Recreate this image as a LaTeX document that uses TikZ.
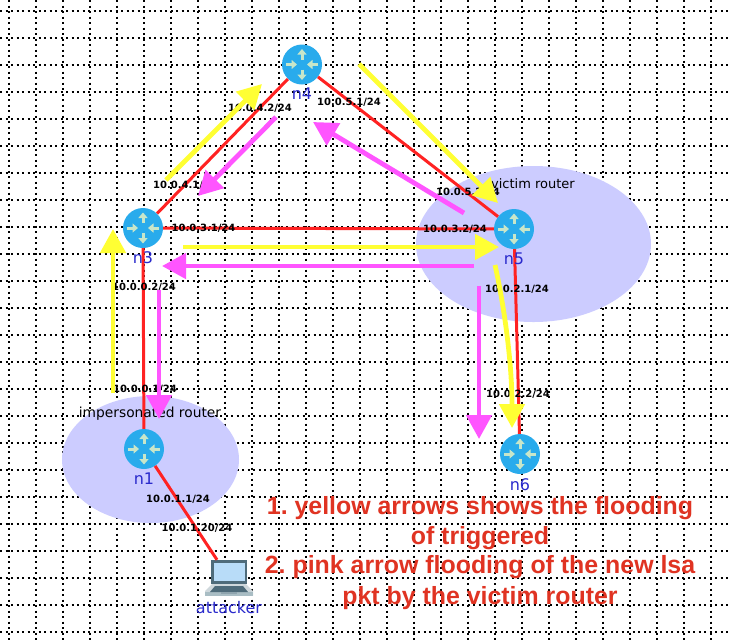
\documentclass[tikz,border=0pt]{standalone}
\usepackage{fontspec}
\setmainfont{DejaVu Sans}
\newfontfamily\notefont{Liberation Sans}
\usetikzlibrary{arrows.meta,shapes.geometric}
\frenchspacing
\definecolor{gridc}{HTML}{000000}
\definecolor{zonec}{HTML}{CCCCFF}
\definecolor{routerc}{HTML}{29ABEC}
\definecolor{iconc}{HTML}{C8E6C9}
\definecolor{linkc}{HTML}{FF2222}
\definecolor{yel}{HTML}{FFFF33}
\definecolor{pnk}{HTML}{FF55FF}
\definecolor{namec}{HTML}{2A2ACC}
\definecolor{notec}{HTML}{E03322}
\definecolor{bezel}{HTML}{4E6B7A}
\definecolor{screenc}{HTML}{B8DCF8}
\definecolor{deckc}{HTML}{CFD8DC}
\definecolor{edgec}{HTML}{A9BDC4}
\tikzset{
  gridline/.style={gridc,line width=1.05pt,dash pattern=on 2.2pt off 3.3pt},
  zone/.style={ellipse,fill=zonec,inner sep=0pt},
  iconarrow/.style={iconc,line width=3pt,-{Triangle[length=5.5pt,width=9pt]}},
  router/.style={circle,fill=routerc,minimum size=40pt,inner sep=0pt,
    path picture={
      \coordinate (c) at (path picture bounding box.center);
      \draw[iconarrow] ([shift={(0,-5)}]c) -- ([shift={(0,-15.5)}]c);
      \draw[iconarrow] ([shift={(0,5)}]c) -- ([shift={(0,15.5)}]c);
      \draw[iconarrow] ([shift={(-16,0)}]c) -- ([shift={(-5,0)}]c);
      \draw[iconarrow] ([shift={(16,0)}]c) -- ([shift={(5,0)}]c);
    }},
  link/.style={linkc,line width=3pt},
  iflabel/.style={font=\bfseries\fontsize{10}{12}\selectfont,text=black,inner sep=0pt},
  namelabel/.style={font=\fontsize{16}{18}\selectfont,text=namec,inner sep=0pt},
  zonelabel/.style={font=\fontsize{13}{15}\selectfont,text=black,inner sep=0pt},
  yarrow/.style={yel,line width=4.8pt,-{Triangle[length=24pt,width=25pt]}},
  parrow/.style={pnk,line width=4.8pt,-{Triangle[length=24pt,width=25pt]}},
  note/.style={font=\notefont\bfseries\fontsize{24.9}{30}\selectfont,text=notec,inner sep=0pt},
}
\begin{document}
\begin{tikzpicture}[x=1pt,y=-1pt]
\useasboundingbox (0,0) rectangle (731,641);
\fill[white] (0,0) rectangle (731,641);
% grid
\foreach \gx in {9,36,...,730} \draw[gridline] (\gx,0) -- (\gx,641);
\foreach \gy in {11,38,...,640} \draw[gridline] (0,\gy) -- (731,\gy);
% zones
\node[zone,minimum width=235pt,minimum height=156pt] (victimzone) at (533.5,244) {};
\node[zone,minimum width=177pt,minimum height=127pt] (impzone) at (150.5,459.5) {};
% routers
\node[router] (n4) at (302,64.5) {};
\node[router] (n3) at (143,228) {};
\node[router] (n5) at (514,229) {};
\node[router] (n1) at (144,449) {};
\node[router] (n6) at (520,454) {};
\node[minimum width=48pt,minimum height=36pt,inner sep=0pt] (attacker) at (229,578) {};
% laptop
\fill[deckc] (213,583) -- (245,583) -- (253,591) -- (253,595.5) -- (205,595.5) -- (205,591) -- cycle;
\fill[edgec] (205,592) rectangle (253,595.5);
\fill[bezel] (215,586) -- (243,586) -- (248,592) -- (210,592) -- cycle;
\fill[edgec!70!bezel] (221,592) rectangle (237,593.5);
\fill[bezel] (211,560) rectangle (247,584);
\fill[screenc] (213.5,562.5) rectangle (244.5,581);
% links
\draw[link] (n3) -- (n4);
\draw[link] (n4) -- (n5);
\draw[link] (n3) -- (n5);
\draw[link] (n3) -- (n1);
\draw[link] (n5) -- (n6);
\draw[link] (n1) -- (attacker);
% zone labels
\node[zonelabel] (victimtext) at (533,184) {victim router};
\node[zonelabel,font=\fontsize{13.8}{15}\selectfont] (imptext) at (150,414) {impersonated router};
% interface labels
\node[iflabel] (l42) at (260,108.5) {10.0.4.2/24};
\node[iflabel] (l51) at (349,102.5) {10.0.5.1/24};
\node[iflabel] (l41) at (185,185.5) {10.0.4.1/24};
\node[iflabel] (l31) at (203.5,228.5) {10.0.3.1/24};
\node[iflabel] (l32) at (455,229.5) {10.0.3.2/24};
\node[iflabel] (l52) at (468,192.5) {10.0.5.2/24};
\node[iflabel] (l21) at (517,289.5) {10.0.2.1/24};
\node[iflabel] (l22) at (518,394.5) {10.0.2.2/24};
\node[iflabel] (l02) at (144,287.5) {10.0.0.2/24};
\node[iflabel] (l01) at (145,389.5) {10.0.0.1/24};
\node[iflabel] (l11) at (178,499.5) {10.0.1.1/24};
\node[iflabel] (l120) at (197,528.5) {10.0.1.20/24};
% names
\node[namelabel] (t4) at (302,94) {n4};
\node[namelabel] (t3) at (143,258) {n3};
\node[namelabel] (t5) at (514,259) {n5};
\node[namelabel] (t1) at (144,479) {n1};
\node[namelabel] (t6) at (520,485) {n6};
\node[namelabel] (tatt) at (229,608) {attacker};
% annotation arrow ends
\coordinate (ya1) at (113,393); \coordinate (yb1) at (113,229);
\coordinate (ya2) at (166,180); \coordinate (yb2) at (262,84);
\coordinate (ya3) at (359,64);  \coordinate (yb3) at (498,203);
\coordinate (ya4) at (183,247); \coordinate (yb4) at (499,247);
\coordinate (ya5) at (495,265); \coordinate (yb5) at (512,428);
\coordinate (pa1) at (276,117); \coordinate (pb1) at (198,196);
\coordinate (pa2) at (464,213); \coordinate (pb2) at (313,122);
\coordinate (pa3) at (474,266); \coordinate (pb3) at (162,266);
\coordinate (pa4) at (479,286); \coordinate (pb4) at (479,439);
\coordinate (pa5) at (159,290); \coordinate (pb5) at (159,419);
\draw[yarrow] (ya1) -- (yb1);
\draw[yarrow] (ya2) -- (yb2);
\draw[yarrow] (ya3) -- (yb3);
\draw[yarrow] (ya4) -- (yb4);
\draw[yarrow] (ya5) .. controls (505,310) and (512,365) .. (yb5);
\draw[parrow] (pa1) -- (pb1);
\draw[parrow] (pa2) -- (pb2);
\draw[parrow] (pa3) -- (pb3);
\draw[parrow] (pa4) -- (pb4);
\draw[parrow] (pa5) -- (pb5);
% note
\node[note] (note1) at (480,508) {1. yellow arrows shows the flooding};
\node[note] (note2) at (480,538) {of triggered};
\node[note] (note3) at (480,567) {2. pink arrow flooding of the new lsa};
\node[note] (note4) at (480,598) {pkt by the victim router};
\end{tikzpicture}
\end{document}
